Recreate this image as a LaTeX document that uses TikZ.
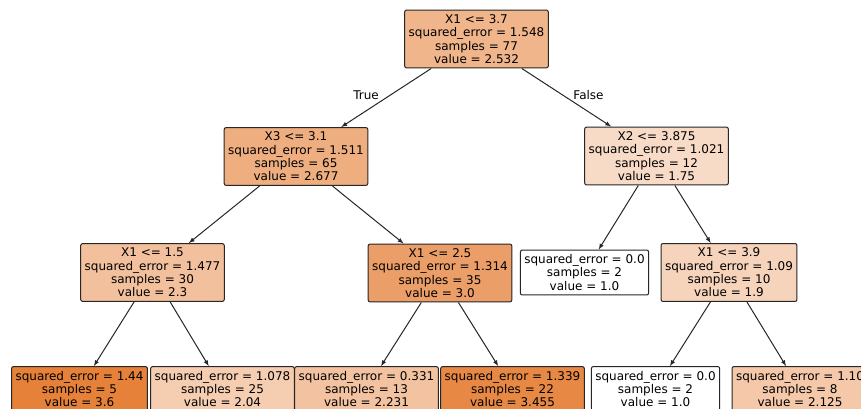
\documentclass[tikz,border=0pt]{standalone}
\usepackage{fontspec}
\setmainfont{DejaVu Sans}
% fill colours, orange blended with white by value
\definecolor{vroot}{RGB}{240,181,138}
\definecolor{vleft}{RGB}{238,174,127}
\definecolor{vright}{RGB}{247,219,198}
\definecolor{vaa}{RGB}{242,192,156}
\definecolor{vab}{RGB}{235,158,103}
\definecolor{vbb}{RGB}{246,211,187}
\definecolor{vmax}{RGB}{229,129,57}
\definecolor{vtwoa}{RGB}{245,205,176}
\definecolor{vtwob}{RGB}{243,195,161}
\definecolor{vthree}{RGB}{231,136,68}
\definecolor{vtwoc}{RGB}{244,200,169}
\tikzset{
	box/.style={draw=black!85,rounded corners=2pt,line width=1pt,align=center,
		inner xsep=4pt,inner ysep=4.5pt,font=\fontsize{12}{13.3}\selectfont},
	edgelbl/.style={font=\fontsize{12}{13.3}\selectfont}
}
\def\sq{squared\_error = }

\begin{document}
\begin{tikzpicture}[>=latex,x=1pt,y=-1pt]
\useasboundingbox (0,0) rectangle (861,408);
% splits
\node[box,fill=vroot] (root) at (476.5,39) {X1 <= 3.7\\\sq 1.548\\samples = 77\\value = 2.532};
\node[box,fill=vleft] (xa) at (296,156.5) {X3 <= 3.1\\\sq 1.511\\samples = 65\\value = 2.677};
\node[box,fill=vright] (xb) at (656.5,156) {X2 <= 3.875\\\sq 1.021\\samples = 12\\value = 1.75};
\node[box,fill=vaa] (xaa) at (152.5,272.5) {X1 <= 1.5\\\sq 1.477\\samples = 30\\value = 2.3};
\node[box,fill=vab] (xab) at (440,273) {X1 <= 2.5\\\sq 1.314\\samples = 35\\value = 3.0};
\node[box,fill=white] (xba) at (584.5,272.5) {\sq 0.0\\samples = 2\\value = 1.0};
\node[box,fill=vbb] (xbb) at (729,272.5) {X1 <= 3.9\\\sq 1.09\\samples = 10\\value = 1.9};
% leaves
\foreach \nm/\x/\col/\err/\n/\v in {
	la/79.5/vmax/1.44/5/3.6,
	lb/222.5/vtwoa/1.078/25/2.04,
	lc/366.5/vtwob/0.331/13/2.231,
	ld/512.5/vthree/1.339/22/3.455,
	le/655.5/white/0.0/2/1.0,
	lf/800/vtwoc/1.10/8/2.125}{
	\node[box,fill=\col] (\nm) at (\x,389) {\sq\err\\samples = \n\\value = \v};
}
% edges
\foreach \a/\b in {root/xa,root/xb,xa/xaa,xa/xab,xb/xba,xb/xbb,
	xaa/la,xaa/lb,xab/lc,xab/ld,xbb/le,xbb/lf}{
	\draw[->,line width=1pt,black!85] (\a) -- (\b);
}
\node[edgelbl] (lbltrue) at (366,95) {True};
\node[edgelbl] (lblfalse) at (588.5,95) {False};
\end{tikzpicture}
\end{document}
